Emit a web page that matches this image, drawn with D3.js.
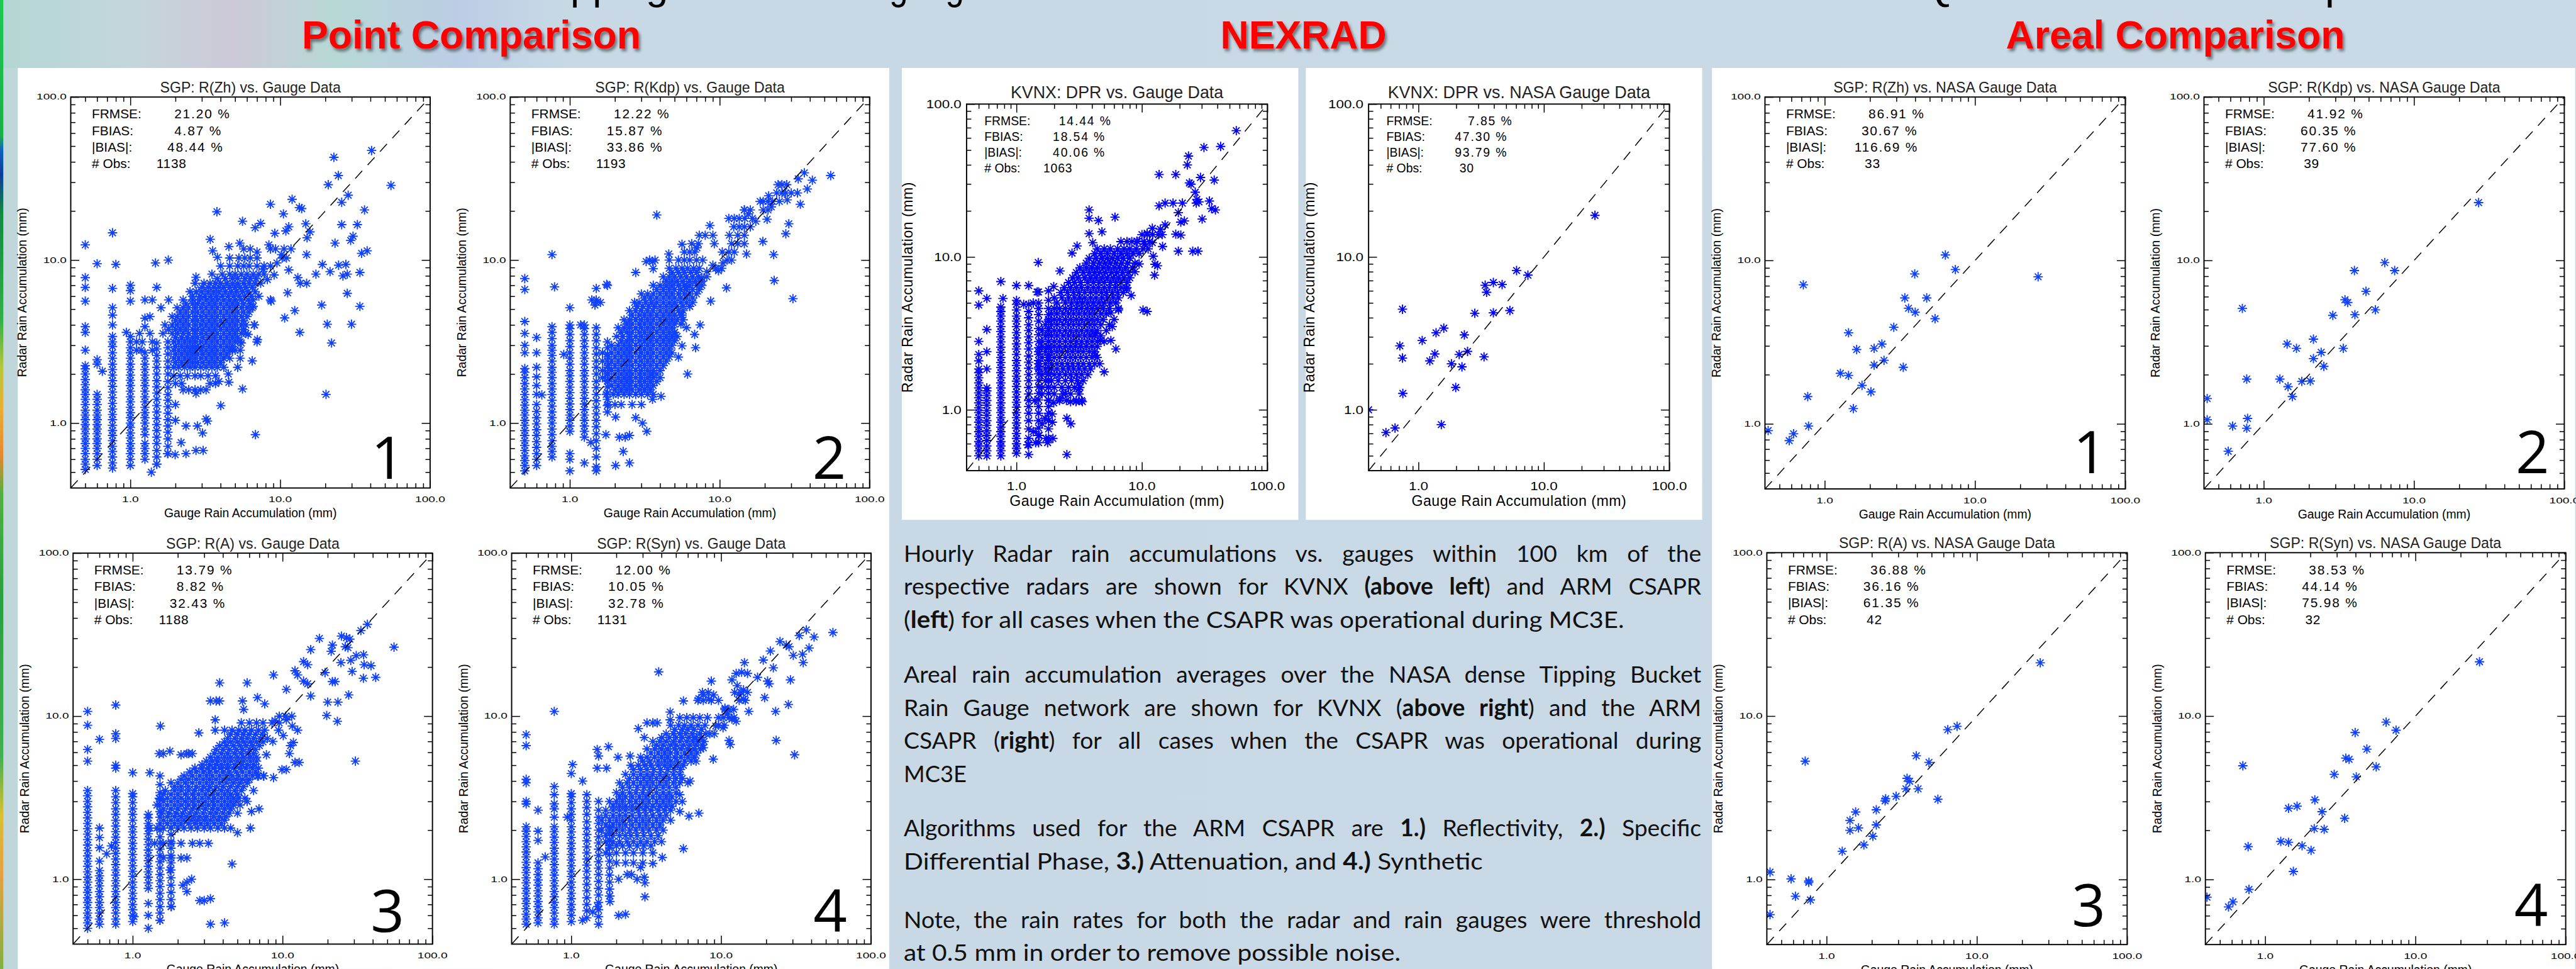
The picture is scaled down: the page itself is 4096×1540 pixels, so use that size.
<!DOCTYPE html>
<html>
<head>
<meta charset="utf-8">
<script src="https://cdn.jsdelivr.net/npm/d3@7/dist/d3.min.js"></script>
<style>
  html, body { margin: 0; padding: 0; overflow: hidden; background: #c9dae6; }
  svg { display: block; }
</style>
</head>
<body>
<script>

var pointTitles = ["SGP: R(Zh) vs. Gauge Data", "SGP: R(Kdp) vs. Gauge Data", "SGP: R(A) vs. Gauge Data", "SGP: R(Syn) vs. Gauge Data"];
var arealTitles = ["SGP: R(Zh) vs. NASA Gauge Data", "SGP: R(Kdp) vs. NASA Gauge Data", "SGP: R(A) vs. NASA Gauge Data", "SGP: R(Syn) vs. NASA Gauge Data"];
var nexradTitles = ["KVNX: DPR vs. Gauge Data", "KVNX: DPR vs. NASA Gauge Data"];

// FRMSE %, FBIAS %, |BIAS| %, # obs
var pointStats = [[21.20, 4.87, 48.44, 1138], [12.22, 15.87, 33.86, 1193], [13.79, 8.82, 32.43, 1188], [12.00, 10.05, 32.78, 1131]];
var nexradStats = [[14.44, 18.54, 40.06, 1063], [7.85, 47.30, 93.79, 30]];
var arealStats = [[86.91, 30.67, 116.69, 33], [41.92, 60.35, 77.60, 39], [36.88, 36.16, 61.35, 42], [38.53, 44.14, 75.98, 32]];

var majorTicks = [1, 10, 100];
var minorTicks = [0.5, 0.6, 0.7, 0.8, 0.9, 2, 3, 4, 5, 6, 7, 8, 9, 20, 30, 40, 50, 60, 70, 80, 90];
var statLabels = ["FRMSE:", "FBIAS:", "|BIAS|:", "# Obs:"];

// gauge columns: [gauge mm, [radar mm ...]]
var zhCols = [
 [0.5, [0.52,0.56,0.6,0.65,0.7,0.75,0.8,0.86,0.92,0.98,1.05,1.12,1.2,1.3,1.4,1.5,1.6,1.72,1.85,2.0,2.15,2.25,2.8,3.6,3.9,5.6,6.8,7.8,12.4]],
 [0.6, [0.55,0.6,0.65,0.7,0.75,0.8,0.86,0.92,0.98,1.05,1.12,1.2,1.3,1.4,1.5,2.3,2.45]],
 [0.76, [0.53,0.57,0.62,0.67,0.72,0.78,0.84,0.9,0.97,1.05,1.13,1.22,1.32,1.43,1.55,1.68,1.82,1.97,2.13,2.3,2.5,2.7,2.95,3.15,3.4,4.0,4.6,5.1,6.7,14.7]],
 [1.0, [0.55,0.6,0.65,0.7,0.75,0.81,0.87,0.94,1.0,1.08,1.16,1.25,1.35,1.45,1.57,1.7,1.83,1.97,2.13,2.3,2.5,2.7,2.9,3.15,3.4,5.6,6.5,7.0]],
 [1.25, [0.6,0.65,0.7,0.75,0.85,0.92,1.0,1.08,1.16,1.25,1.35,1.45,1.57,1.7,1.83,1.97,2.13,2.3,2.5,2.7,3.9,4.4,5.7]],
 [1.5, [0.56,0.62,0.68,0.75,0.82,0.9,0.98,1.07,1.17,1.28,1.4,1.53,1.67,1.82,2.0,2.2,2.4,2.6,2.85,3.1,6.8]],
 [1.78, [0.65,0.72,0.8,0.88,0.96,1.05,1.15,1.26,1.38,1.5,1.65,1.8,2.0,2.2,2.4,2.65,2.9,3.15]]
];
// radar rows: [radar mm, [gauge mm ...]]
var zhRows = [
 [1.6,[2.25,2.45,2.7,2.95,3.2]],
 [1.75,[2.0,2.2,3.4,3.7]],
 [1.95,[1.95,2.15,2.4,2.7,2.95,3.3,3.7]],
 [2.2,[1.95,2.1,2.3,2.5,2.7,2.95,3.2,3.5,3.8,4.2]],
 [2.35,[2.0,2.2,2.4,2.6,2.8,3.05,3.35,3.65,4.0]],
 [2.5,[1.95,2.1,2.3,2.5,2.7,2.95,3.2,3.5,3.8,4.2,4.6,5.4]],
 [2.65,[2.0,2.2,2.4,2.6,2.8,3.05,3.35,3.65,4.0,4.4]],
 [2.8,[1.1,1.18,1.4,1.95,2.1,2.3,2.5,2.7,2.95,3.2,3.5,3.8,4.2,4.6,5.0,5.4]],
 [2.95,[2.0,2.2,2.4,2.6,2.8,3.05,3.35,3.65,4.0,4.4,4.8]],
 [3.15,[1.1,1.2,1.4,1.95,2.1,2.3,2.5,2.7,2.95,3.2,3.5,3.8,4.2,4.6,5.0,5.4,7.0]],
 [3.35,[2.0,2.2,2.4,2.6,2.8,3.05,3.35,3.65,4.0,4.4,4.8,5.2]],
 [3.55,[1.15,1.35,1.65,1.9,2.05,2.25,2.45,2.7,2.95,3.2,3.5,3.8,4.2,4.6,5.0,5.5,5.9]],
 [3.75,[1.8,2.0,2.15,2.35,2.6,2.8,3.05,3.35,3.65,4.0,4.4,4.8,5.2,5.7]],
 [4.0,[1.7,1.9,2.05,2.25,2.45,2.7,2.95,3.2,3.5,3.8,4.2,4.6,5.0,5.5,5.9,6.7]],
 [4.25,[2.0,2.15,2.35,2.6,2.8,3.05,3.35,3.65,4.0,4.4,4.8,5.2,5.7]],
 [4.5,[1.35,1.9,2.05,2.25,2.45,2.7,2.95,3.2,3.5,3.8,4.2,4.6,5.0,5.5,6.0]],
 [4.8,[2.15,2.35,2.6,2.8,3.05,3.35,3.65,4.0,4.4,4.8,5.2,5.7,6.2]],
 [5.1,[1.6,2.05,2.25,2.45,2.7,2.95,3.2,3.5,3.8,4.2,4.6,5.0,5.5,6.0,6.5]],
 [5.4,[2.35,2.6,2.8,3.05,3.35,3.65,4.0,4.4,4.8,5.2,5.7,6.3]],
 [5.7,[1.4,1.8,2.25,2.6,2.9,3.2,3.5,3.8,4.2,4.6,5.0,5.5,6.1,6.6]],
 [6.0,[2.6,2.9,3.15,3.45,3.75,4.1,4.5,4.9,5.3,5.8,6.4]],
 [6.4,[2.5,2.75,3.0,3.3,3.6,3.9,4.3,4.7,5.1,5.6,6.1,6.8]],
 [6.8,[3.0,3.3,3.6,3.9,4.2,4.6,5.0,5.4,5.9,6.5]],
 [7.2,[2.7,3.1,3.4,3.7,4.0,4.4,4.8,5.2,5.7,6.2,6.8,7.4]],
 [7.7,[3.8,4.3,4.8,5.2,5.8,6.3,6.9]],
 [8.2,[3.5,4.1,4.6,5.0,5.5,6.0,6.6,7.2,7.8]],
 [9.2,[4.0,4.6,5.2,5.7,6.2,7.0,7.8,8.6]],
 [10.3,[4.6,5.3,5.8,6.3,7.0,10.3,11.0]],
 [11.7,[5.7,6.3,8.6,9.3,10.6,11.8]]
];
var zhPts = [[40.7,47],[22.8,42.7],[24.4,33],[20.9,29],[54.8,28.7],[28.4,25],[25.7,22.6],[12,23.6],[8.6,22],[13.9,20.7],[13.4,21],[36.5,20.3],[10.5,19.2],[3.78,19.8],[14.8,16.7],[25.7,16.5],[32.7,16.5],[5.6,17.3],[7.4,16.8],[6.8,15.8],[11.4,16],[10.9,15.1],[9.2,14.6],[15.8,14.9],[30.6,14],[29.5,13.2],[23.2,12.7],[15.1,13.7],[3.41,13.4],[5.37,12.7],[4.54,12.1],[8.4,12.4],[34.9,11],[38,11.4],[15,10.8],[10.2,10.8],[3.54,11.4],[3.81,10.4],[7,11.2],[0.6,9.5],[0.8,9.4],[1.47,9.6],[1.79,10],[19.1,9.4],[21.5,8.5],[24.5,9.3],[27.4,9.4],[17.3,8.2],[26.2,8],[28,8.2],[34,8.4],[9.1,8.1],[11.4,8.7],[13.1,7.8],[2.74,7.85],[11.2,6.3],[28,6.25],[13.6,7.2],[15,7.2],[8.7,5.6],[18.9,5.3],[34,5.2],[12.5,4.9],[10.7,4.42],[20.6,4.04],[29.9,4.04],[6.74,4.0],[13.5,3.6],[22,3.1],[7.04,3.25],[6.5,2.41],[4.54,1.78],[5.6,1.62],[20.2,1.5],[4.01,1.28],[6.83,0.85],[3.27,1.03],[3.03,0.87],[2.18,0.76],[1.99,0.64],[1.77,0.65],[2.35,0.65],[2.74,0.68],[3.06,0.68],[1.5,0.56],[1.38,0.5],[2.74,1.52],[3.2,1.06],[2.0,1.04],[2.35,0.96],[2.8,0.96],[0.65,2.08],[2.0,1.3],[0.94,3.6],[7.7,8.8],[8.2,7.6],[9.5,9.6],[7.2,6.0],[6.6,5.2],[8.6,5.7],[4.2,2.5],[4.8,2.8],[5.2,2.2],[4.5,2.0],[3.9,1.8],[5.5,3.1],[6.1,3.5]];

var kdpCols = [
 [0.5, [0.51,0.55,0.59,0.63,0.68,0.73,0.78,0.84,0.9,0.97,1.04,1.12,1.2,1.29,1.39,1.5,1.62,1.75,1.9,2.05,2.16,2.7,3.0,3.55,4.2,6.6,7.7]],
 [0.6, [0.55,0.6,0.65,0.71,0.77,0.84,0.91,0.99,1.08,1.18,1.3,1.5,1.7,1.92,2.2,2.7,3.35]],
 [0.76, [0.62,0.67,0.72,0.78,0.85,0.92,1.0,1.08,1.17,1.27,1.38,1.5,1.62,1.75,1.9,2.05,2.2,2.4,2.6,2.8,3.0,3.3,3.6,3.9,10.8]],
 [1.0, [0.51,0.6,0.65,0.89,0.96,1.04,1.12,1.21,1.31,1.42,1.54,1.66,1.8,1.95,2.1,2.3,2.5,2.7,2.95,3.2,3.5,3.8,4.0,5.1]],
 [1.25, [0.57,0.82,0.89,0.96,1.04,1.12,1.21,1.31,1.42,1.54,1.66,1.8,1.95,2.1,2.3,2.5,2.7,2.95,3.2,3.5,3.8,4.0]],
 [1.5, [0.51,0.54,0.62,0.7,0.78,0.86,0.95,1.04,1.14,1.25,1.37,1.5,1.65,1.8,2.0,2.2,2.4,2.65,2.9,3.2,3.5,3.85,5.5,5.7,6.7]],
 [1.78, [1.17,1.28,1.4,1.53,1.67,1.82,2.0,2.2,2.4,2.65,2.9,3.15,7.0]]
];
var kdpRows = [
 [1.3,[1.8,2.0,2.2,2.6,3.0]],
 [1.5,[1.75,1.95,2.1,2.3,2.5,2.75,3.0,3.3,3.6]],
 [1.6,[2.0,2.2,2.4,2.6,2.9,3.15,3.45]],
 [1.7,[1.9,2.1,2.3,2.5,2.75,3.0,3.3,3.6]],
 [1.8,[1.8,2.0,2.2,2.4,2.6,2.9,3.15,3.45,3.8]],
 [1.9,[1.65,1.9,2.1,2.3,2.5,2.75,3.0,3.3,3.6,4.0]],
 [2.0,[1.8,2.0,2.2,2.4,2.6,2.9,3.15,3.45,3.8]],
 [2.1,[1.65,1.9,2.1,2.3,2.5,2.75,3.0,3.3,3.6,4.0]],
 [2.25,[1.8,2.0,2.2,2.4,2.6,2.9,3.15,3.45,3.8,4.2]],
 [2.4,[1.65,1.9,2.1,2.3,2.5,2.75,3.0,3.3,3.6,4.0,4.4]],
 [2.55,[1.8,2.0,2.2,2.4,2.6,2.9,3.15,3.45,3.8,4.2,4.6]],
 [2.7,[1.65,1.9,2.1,2.3,2.5,2.75,3.0,3.3,3.6,4.0,4.4,4.8]],
 [2.85,[2.0,2.2,2.4,2.6,2.9,3.15,3.45,3.8,4.2,4.6]],
 [3.0,[1.9,2.1,2.3,2.5,2.75,3.0,3.3,3.6,4.0,4.4,4.8]],
 [3.2,[2.2,2.4,2.6,2.9,3.15,3.45,3.8,4.2,4.6,5.0]],
 [3.4,[2.05,2.25,2.5,2.75,3.0,3.3,3.6,4.0,4.4,4.8,5.2]],
 [3.6,[2.2,2.4,2.6,2.9,3.15,3.45,3.8,4.2,4.6,5.0]],
 [3.85,[2.1,2.3,2.5,2.75,3.0,3.3,3.6,4.0,4.4,4.8]],
 [4.05,[2.4,2.6,2.9,3.15,3.45,3.8,4.2,4.6,5.0,5.5]],
 [4.3,[2.3,2.5,2.75,3.0,3.3,3.6,4.0,4.4,4.8,5.2,5.7]],
 [4.6,[2.6,2.9,3.15,3.45,3.8,4.2,4.6,5.0,5.5]],
 [4.9,[2.5,2.75,3.0,3.3,3.6,4.0,4.4,4.8,5.3,5.7]],
 [5.2,[2.8,3.05,3.35,3.65,4.0,4.4,4.8,5.2,5.7,6.3]],
 [5.5,[1.6,2.7,2.9,3.2,3.5,3.8,4.2,4.6,5.0,5.5,6.0,6.6]],
 [5.85,[3.15,3.45,3.8,4.2,4.6,5.0,5.5,6.0,6.6]],
 [6.2,[3.0,3.3,3.6,4.0,4.4,4.8,5.3,5.8,6.3,7.0]],
 [6.6,[3.8,4.2,4.6,5.0,5.5,6.0,6.6,7.3]],
 [7.0,[3.6,4.0,4.4,4.8,5.3,5.8,6.3,7.0,7.6]],
 [7.4,[4.4,4.8,5.2,5.7,6.3,6.9,7.6]],
 [7.9,[4.2,4.6,5.0,5.5,6.0,6.6,7.2,8.2]],
 [8.4,[4.8,5.3,5.8,6.4,7.0]],
 [8.9,[4.6,5.1,5.6,6.1,6.7,7.3,9.4,10.3]],
 [10,[3.4,3.7,4.6,5.3,5.8,6.3,7.0,7.7,11.2,12.0]],
 [11.2,[5.8,6.3,6.8,10.4,11.5,12.5]],
 [12.6,[6.5,7.2,9.2,12,13.2,14.6]],
 [14.2,[7.3,8.0,9.0,11.6,13.2,14.6]],
 [16,[12.4,13.5,14.6,16]],
 [18,[11.5,12.5,13.5,14.7,16.5]],
 [20.3,[14.6,16,19.5,21]],
 [22.9,[19.5,21,22.5,25]],
 [25.8,[24,26,27.5,30,33]],
 [29,[24.5,26,28]]
];
var kdpPts = [[55,33],[36.7,34.3],[41.5,30.9],[33.4,31.5],[38.4,27.3],[34.5,22],[28.2,23.4],[21.2,24.8],[18.6,22.9],[22.1,21.2],[20.7,17.8],[17.4,17.3],[14.6,20.3],[15.5,19.2],[28.9,16.7],[27.6,14.5],[19.4,13],[22.9,10.8],[15.1,10.9],[23.1,7.5],[11.1,6.75],[30.8,5.8],[3.8,18.9],[8.6,16.3],[5.6,12.5],[7.05,11.9],[4.57,10.9],[3.23,9.8],[3.56,9.8],[3.6,8.85],[2.75,8.4],[6.0,3.85],[6.8,3.5],[7.4,4.0],[5.6,2.98],[6.9,2.9],[5.3,2.54],[6.1,2.0],[3.56,2.0],[3.56,1.4],[4.06,1.46],[2.75,1.08],[3.05,1.0],[3.26,0.89],[2.02,1.09],[1.74,0.85],[2.14,0.82],[2.34,0.82],[2.5,0.84],[2.27,0.67],[2.02,0.55],[2.5,0.57],[1.38,0.76],[0.79,6.85],[0.91,2.64],[0.65,1.49],[1.76,7.1],[1.4,5.7],[1.47,5.3],[1.18,4.0],[8.7,5.6],[6.0,6.8],[7.6,7.8],[8.2,8.5],[9.0,9.3],[9.8,8.6],[10.5,9.6],[5.0,3.6],[5.6,4.6],[6.3,5.2]];

var aCols = [
 [0.5, [0.5,0.54,0.58,0.62,0.67,0.72,0.77,0.83,0.89,0.96,1.03,1.11,1.2,1.29,1.39,1.5,1.62,1.75,1.89,2.04,2.2,2.38,2.57,2.78,3.0,3.25,3.5,5.3,6.25,8.8,10.7]],
 [0.6, [0.53,0.57,0.62,0.67,0.72,0.78,0.84,0.91,0.98,1.05,1.13,1.29,1.56,1.8,2.06,7.2]],
 [0.77, [0.53,0.57,0.62,0.67,0.72,0.78,0.84,0.91,0.98,1.06,1.14,1.23,1.33,1.44,1.55,1.68,1.81,1.96,2.12,2.3,2.5,2.7,2.95,3.2,3.5,4.8,5.0,7.3,7.8,11.7]],
 [1.0, [0.55,0.6,0.65,0.7,0.76,0.82,0.89,0.96,1.04,1.12,1.21,1.31,1.42,1.54,1.66,1.8,1.95,2.1,2.3,2.5,2.7,2.95,3.2,3.35,4.5]],
 [1.27, [0.5,0.6,0.71,0.88,0.95,1.03,1.11,1.2,1.3,1.4,1.51,1.63,1.76,1.9,2.05,2.2,2.38,2.5]],
 [1.52, [0.56,0.62,0.68,0.75,0.82,0.9,0.98,1.07,1.17,1.28,1.4,1.53,1.67,1.82,2.0,2.2,2.4,2.6,2.85,3.1,3.4,3.8,4.3]],
 [1.8, [0.68,0.75,0.83,0.92,1.02,1.14,1.26,1.4,1.55,1.7,1.88,2.06]]
];
var aRows = [
 [1.35,[1.6,1.8,2.1,2.3]],
 [1.66,[1.4,1.6,1.8,2.1,2.5,2.8,3.2]],
 [2.06,[1.3,1.45,1.6,1.8,2.0,2.2,2.45,2.7,3.0,3.3,3.7,4.1,4.5]],
 [2.2,[1.7,1.9,2.1,2.35,2.6,2.85,3.15,3.5,3.9]],
 [2.3,[1.6,1.8,2.0,2.2,2.45,2.7,3.0,3.3,3.7,4.1]],
 [2.42,[1.7,1.9,2.1,2.3,2.55,2.8,3.1,3.45,3.8,4.2]],
 [2.54,[1.55,1.75,1.95,2.15,2.4,2.65,2.95,3.3,3.6,4.0,4.4,5.0]],
 [2.7,[1.6,1.8,2.0,2.25,2.5,2.75,3.05,3.4,3.7,4.1,4.5]],
 [2.85,[1.45,1.7,1.9,2.1,2.35,2.6,2.9,3.2,3.5,3.9,4.3,4.7,5.2]],
 [3.0,[1.6,1.8,2.0,2.25,2.5,2.75,3.05,3.4,3.7,4.1,4.5,4.9]],
 [3.14,[1.5,1.7,1.9,2.1,2.35,2.6,2.9,3.2,3.5,3.9,4.3,4.7,5.1,5.6]],
 [3.32,[1.6,1.8,2.0,2.25,2.5,2.75,3.05,3.4,3.7,4.1,4.5,5.0]],
 [3.5,[1.65,1.9,2.1,2.35,2.6,2.9,3.2,3.5,3.9,4.3,4.8,5.3]],
 [3.7,[1.9,2.1,2.35,2.65,2.95,3.25,3.6,4.0,4.5,5.0,5.5]],
 [3.9,[1.8,2.0,2.25,2.5,2.8,3.1,3.4,3.8,4.2,4.7,5.2,5.8]],
 [4.1,[2.1,2.35,2.65,2.95,3.25,3.6,4.0,4.4,4.9,5.4,6.0]],
 [4.3,[2.2,2.5,2.8,3.1,3.4,3.8,4.2,4.6,5.1,5.7,6.3,6.9,7.5]],
 [4.55,[2.4,2.65,2.95,3.25,3.6,4.0,4.4,4.9,5.4,6.0,6.6]],
 [4.8,[2.6,2.9,3.2,3.5,3.9,4.3,4.7,5.2,5.7,6.3,6.9]],
 [5.05,[2.9,3.25,3.6,3.9,4.3,4.8,5.3,5.8,6.4]],
 [5.3,[3.1,3.4,3.7,4.1,4.5,5.0,5.5,6.1,6.7]],
 [5.6,[3.3,3.7,4.1,4.5,5.0,5.5,6.1,6.7]],
 [5.9,[1.5,1.6,2.3,2.5,3.5,3.9,4.3,4.8,5.3,5.9,6.4]],
 [6.25,[3.6,4.0,4.4,4.9,5.4,6.0,6.6]],
 [6.6,[3.8,4.2,4.7,5.2,5.7,6.3,7.0]],
 [6.95,[4.1,4.5,5.0,5.5,6.1,6.7,7.4]],
 [7.3,[4.3,4.8,5.3,5.8,6.4,7.1,7.9]],
 [7.75,[4.5,5.0,5.5,6.0,6.6,7.3]],
 [8.2,[4.1,4.6,5.1,5.6,6.2,6.9,7.6]],
 [9.1,[5.3,6.0,6.7,7.4,8.5,9.5]],
 [10,[9.5,10.5,11.5]]
];
var aPts = [[55.4,26.5],[36.8,36.6],[33.3,33.5],[24.7,31],[26.7,30.3],[28.1,29.7],[26.2,26.7],[27.3,26.3],[17.6,30],[21.5,27.3],[21.1,25],[15.4,25.6],[31,23.5],[34.7,23.8],[24.5,21.3],[28.5,22],[35,20.7],[38.9,20.4],[13.8,21.6],[14.7,20.7],[19.2,18.5],[29.1,18.8],[34.6,17.1],[41.8,17.3],[21.5,16.3],[22.4,16.3],[12.1,19],[12.6,17.9],[13.8,16.4],[14.7,15.8],[15.4,13.3],[8.7,17.9],[10.6,14.6],[27.6,13.5],[20,12.2],[23.4,12.2],[19.7,10.1],[23.2,9.3],[30.6,5.3],[3.8,16],[5.8,16],[3.3,12.4],[3.6,12.4],[3.8,12.4],[5.4,12.4],[5.5,11],[6.8,13],[7.6,11.9],[1.53,8.7],[2.76,7.9],[3.55,9.5],[3.55,8.2],[1.77,6.1],[2.1,5.8],[2.36,5.9],[1.3,4.5],[6.8,4.3],[7.45,4.3],[8.7,4.2],[9.9,4.7],[10.6,4.7],[11.1,5.9],[12.1,5.2],[12.9,5.2],[11.3,6.6],[11.8,6.9],[10.1,7.6],[12.6,8.2],[11.6,8.7],[8.9,9.4],[10.6,9.5],[6.96,2.7],[6.1,2.06],[5.0,1.93],[4.6,1.24],[3.3,0.76],[3.0,0.74],[2.8,0.74],[3.3,0.53],[4.1,0.54],[2.16,0.92],[2.3,0.96],[2.47,1.0],[2.3,0.84],[1.81,0.68],[1.77,1.14],[1.52,0.56],[1.02,0.59],[0.67,1.43],[0.72,1.6],[6.4,3.5],[5.8,3.0],[6.2,2.6],[7.8,5.8],[8.6,7.0],[9.4,8.2]];

var synCols = [
 [0.5, [0.53,0.57,0.61,0.66,0.71,0.76,0.82,0.88,0.95,1.02,1.1,1.18,1.27,1.37,1.47,1.58,1.7,1.83,1.97,2.1,2.9,3.0,3.9,4.1,6.6,7.7]],
 [0.6, [0.54,0.58,0.63,0.68,0.73,0.79,0.85,0.92,0.99,1.07,1.16,1.26,1.73,1.97,2.65]],
 [0.77, [0.53,0.57,0.62,0.67,0.72,0.78,0.84,0.91,0.98,1.06,1.14,1.23,1.33,1.44,1.55,1.68,1.81,1.96,2.1,2.4,2.7,2.9,3.3,3.7,10.7]],
 [1.0, [0.55,0.6,0.65,0.7,0.76,0.82,0.89,0.96,1.04,1.12,1.21,1.31,1.42,1.54,1.66,1.8,1.95,2.1,2.3,2.5,2.7,2.95,3.2,3.35]],
 [1.27, [0.58,0.64,0.7,0.77,0.85,0.93,1.02,1.12,1.22,1.33,1.45,1.58,1.72,1.88,2.05,2.25,2.5,2.75,3.0,3.3]],
 [1.52, [0.53,0.59,0.65,0.72,0.8,0.88,0.97,1.07,1.17,1.28,1.4,1.53,1.67,1.82,2.0,2.2,2.4,2.65,3.0]],
 [1.8, [0.79,0.87,0.96,1.06,1.17,1.29,1.42,1.56,1.72,1.9,2.1]]
];
var synRows = [
 [1.26,[2.0,2.3,2.6,3.0]],
 [1.45,[1.7,2.0,2.3,2.6,3.0,3.5]],
 [1.6,[1.8,2.0,2.2,2.45,2.75,3.05,3.4]],
 [1.7,[1.7,1.9,2.1,2.35,2.6,2.9,3.2,3.6,4.0]],
 [1.85,[1.7,1.9,2.1,2.3,2.5,2.75,3.05,3.4,3.8]],
 [2.0,[1.6,1.8,2.0,2.2,2.45,2.7,3.0,3.3,3.7,4.1]],
 [2.15,[1.7,1.9,2.1,2.3,2.55,2.85,3.15,3.5,3.9]],
 [2.3,[1.6,1.8,2.0,2.2,2.45,2.7,3.0,3.3,3.7,4.1,4.6]],
 [2.47,[1.7,1.9,2.1,2.3,2.55,2.85,3.15,3.5,3.9,4.3]],
 [2.65,[1.7,1.9,2.1,2.3,2.55,2.8,3.1,3.4,3.8,4.2,4.6]],
 [2.8,[1.9,2.1,2.3,2.55,2.85,3.15,3.5,3.9,4.3,4.7]],
 [3.0,[1.8,2.0,2.2,2.45,2.7,3.0,3.3,3.7,4.1,4.5,5.0,5.5]],
 [3.2,[2.1,2.3,2.55,2.85,3.15,3.5,3.9,4.3,4.7]],
 [3.4,[2.0,2.2,2.45,2.7,3.0,3.3,3.7,4.1,4.5,5.0]],
 [3.65,[2.2,2.45,2.75,3.05,3.35,3.7,4.1,4.5,5.0]],
 [3.9,[2.1,2.35,2.6,2.9,3.2,3.5,3.9,4.3,4.8,5.3,6.0]],
 [4.15,[2.45,2.75,3.05,3.35,3.7,4.1,4.5,5.0,5.5]],
 [4.4,[2.3,2.6,2.9,3.2,3.5,3.9,4.3,4.8,5.3]],
 [4.7,[2.6,2.9,3.2,3.55,3.95,4.4,4.85,5.35]],
 [5.0,[2.5,2.8,3.1,3.4,3.8,4.2,4.6,5.1,5.6]],
 [5.3,[3.0,3.35,3.8,4.2,4.6,5.1,5.7,6.3]],
 [5.6,[2.9,3.2,3.6,4.0,4.4,4.9,5.4,6.0,6.6]],
 [5.95,[3.4,3.8,4.2,4.6,5.1,5.7,6.3,6.9]],
 [6.3,[3.2,3.6,4.0,4.4,4.9,5.4,6.0,6.6,7.3]],
 [6.65,[3.7,4.1,4.6,5.0,5.6,6.2,6.8,7.5]],
 [7.0,[3.5,3.9,4.3,4.8,5.3,5.9,6.5,7.1,7.7]],
 [7.4,[4.0,4.5,5.0,5.5,6.1,6.8,7.4]],
 [7.8,[4.3,4.8,5.3,5.8,6.4,7.2,7.9,9.0]],
 [8.3,[4.9,5.5,6.0,6.6,7.4]],
 [8.8,[4.6,5.2,5.7,6.3,7.0,7.8,9.6,10.5]],
 [9.8,[5.3,5.9,6.5,7.2,8.1,10.3,11.3,12.2]],
 [11,[10.6,11.3,12.1]],
 [12.5,[7.0,7.6,8.6,9.6,13.2,14.5]],
 [14,[7.5,8.2,12.3,13.6,15]]
];
var synPts = [[55.7,32.6],[37,33.8],[41.7,30.6],[33.2,31.2],[38.6,26.2],[34.9,24],[35.3,21.3],[24.7,28.7],[27.2,27.3],[28.4,26.7],[30.3,23.6],[21.3,25.1],[19.1,22.1],[22.3,19.8],[14.3,21.3],[17.5,17.3],[20.4,16.4],[20.9,15.8],[29,16.7],[12.6,18.3],[13.7,18.6],[15,18.3],[11.8,16.7],[12.8,15.4],[14.1,14.5],[13.1,13.6],[14.1,12.7],[15.3,10.7],[19.5,13],[28.1,11.8],[23.1,10.7],[23.3,7.1],[30.9,5.8],[10.6,11.2],[11,10.3],[11.8,9.6],[12.6,9.3],[9.2,8.7],[10.3,8.5],[11.3,7.1],[11.5,6.7],[8.6,16.4],[8.85,5.45],[5.6,12.4],[7.1,12.8],[7.6,13.5],[8.9,13.5],[8.3,12.7],[3.83,18.7],[4.57,10.6],[4.57,9.5],[3.2,9.1],[3.5,9.1],[3.75,9.1],[2.8,8.4],[3.07,7.4],[1.49,6.25],[1.77,6.5],[1.52,5.7],[1.49,4.8],[1.02,5.05],[1.0,4.45],[1.19,4.0],[2.05,5.6],[2.47,5.7],[1.72,4.8],[6.2,4.0],[6.1,2.44],[7.1,2.54],[5.3,2.6],[5.3,3.3],[5.6,1.54],[4.05,1.36],[3.5,1.25],[2.9,1.18],[2.75,1.0],[3.07,1.03],[3.1,0.95],[3.1,0.78],[2.07,1.0],[2.36,1.07],[2.52,1.07],[2.07,0.6],[2.3,0.61],[1.81,0.79],[1.81,0.73],[1.5,0.68],[1.39,0.63],[1.19,0.56],[0.94,2.4],[0.67,1.37],[6.8,5.3],[7.6,6.4],[6.6,7.4],[8.4,7.8],[9.6,9.8]];

var dprCols = [
 [0.5, [0.5,0.54,0.58,0.62,0.67,0.72,0.77,0.83,0.89,0.96,1.03,1.11,1.2,1.29,1.39,1.5,1.62,1.75,1.85,2.09,2.3,2.8,4.85,6.0]],
 [0.58, [0.5,0.54,0.58,0.63,0.68,0.73,0.79,0.85,0.92,0.99,1.07,1.15,1.24,1.33,1.39,1.85,2.4,3.35,5.35]],
 [0.75, [0.5,0.54,0.58,0.62,0.67,0.72,0.77,0.83,0.89,0.96,1.03,1.11,1.2,1.29,1.39,1.5,1.62,1.75,1.89,2.04,2.2,2.38,2.57,2.78,3.0,3.25,3.5,3.8,4.1,4.4,4.7,6.9]],
 [1.0, [0.52,0.56,0.6,0.65,0.7,0.76,0.82,0.89,0.96,1.04,1.12,1.21,1.31,1.42,1.54,1.66,1.8,1.95,2.1,2.3,2.5,2.7,2.95,3.2,3.5,3.8,4.1,4.5,4.9,5.2,6.5]],
 [1.25, [0.51,0.59,0.65,0.75,0.85,0.95,1.05,1.15,1.27,1.4,1.55,1.7,1.87,2.05,2.25,2.5,2.75,3.0,3.3,3.6,4.0,4.4,4.9,6.5]],
 [1.5, [0.61,0.68,0.76,0.85,0.95,1.05,1.16,1.28,1.41,1.56,1.72,1.9,2.1,2.3,2.55,2.8,3.1,3.4,3.8,4.2,4.6,5.0,5.9]],
 [1.8, [0.65,0.75,0.85,0.95,1.05,1.16,1.28,1.41,1.56,1.72,1.9,2.1,2.3,2.55,2.8,3.1,3.4,3.8,4.2,4.6,5.2,6.0]]
];
var dprRows = [
 [1.15,[1.4,1.8,2.2,2.5,3.0,3.3]],
 [1.27,[1.6,2.0,2.35,2.7,3.15]],
 [1.4,[1.6,1.8,2.0,2.3,2.6,2.9,3.2]],
 [1.55,[1.7,1.9,2.15,2.45,2.75,3.05,3.4]],
 [1.7,[1.6,1.8,2.0,2.2,2.45,2.7,3.0,3.3,3.7]],
 [1.85,[1.5,1.7,1.9,2.1,2.35,2.6,2.85,3.15,3.5,3.9]],
 [2.0,[1.5,1.7,1.9,2.1,2.3,2.55,2.8,3.1,3.4,3.8,4.2,4.6]],
 [2.2,[1.6,1.8,2.0,2.2,2.45,2.7,2.95,3.25,3.6,4.0,4.4]],
 [2.4,[1.5,1.7,1.9,2.1,2.3,2.55,2.8,3.1,3.4,3.8,4.2]],
 [2.6,[1.6,1.8,2.0,2.2,2.45,2.7,2.95,3.25,3.6,4.0,4.4]],
 [2.8,[1.6,1.8,2.0,2.2,2.45,2.7,3.0,3.3,3.65,4.0,4.4,5.0]],
 [3.05,[1.7,1.9,2.1,2.35,2.6,2.85,3.15,3.5,3.85,4.2,4.7]],
 [3.3,[1.6,1.8,2.0,2.2,2.45,2.7,3.0,3.3,3.65,4.0,4.4,5.2]],
 [3.6,[1.7,1.9,2.1,2.35,2.6,2.85,3.15,3.5,3.85,4.2,4.7,5.5]],
 [3.9,[1.8,2.0,2.2,2.45,2.7,3.0,3.3,3.65,4.0,4.4,4.9,6.0]],
 [4.25,[1.9,2.1,2.35,2.6,2.85,3.15,3.5,3.85,4.2,4.7,5.2]],
 [4.6,[2.0,2.2,2.45,2.7,3.0,3.3,3.65,4.0,4.4,4.9,5.5,6.5]],
 [5.0,[2.1,2.45,2.75,3.05,3.35,3.7,4.1,4.55,5.0,5.6,6.2]],
 [5.4,[2.0,2.3,2.6,2.9,3.2,3.5,3.9,4.3,4.8,5.3,5.9,6.5]],
 [5.85,[2.25,2.55,2.85,3.15,3.5,3.9,4.3,4.75,5.2,5.8,6.4,7.1]],
 [6.3,[2.4,2.7,3.0,3.3,3.7,4.1,4.5,5.0,5.5,6.1,6.8,7.6]],
 [6.8,[2.6,2.9,3.25,3.7,4.1,4.55,5.0,5.6,6.2,6.8,7.6]],
 [7.3,[2.8,3.1,3.5,3.9,4.3,4.8,5.3,5.9,6.5,7.2,8.0]],
 [7.9,[3.0,3.4,3.8,4.2,4.6,5.1,5.7,6.3,7.0,7.8]],
 [8.5,[3.2,3.6,4.0,4.4,4.9,5.4,6.0,6.6,7.4,8.4]],
 [9.1,[3.6,4.1,4.6,5.1,5.6,6.2,6.9,7.7,8.8]],
 [9.8,[3.8,4.3,4.8,5.3,5.8,6.4,7.1,8.0]],
 [10.5,[4.2,4.7,5.3,6.0,6.8,7.6,8.5,9.5]],
 [11.3,[4.4,5.0,5.6,6.4,7.2,8.0,9.0,10.2,11.2]],
 [12.6,[6.8,7.6,8.3,9.2,10.4,11.5]],
 [14,[10,11,12.2,13.5,14.5]]
];
var dprPts = [[56.5,67],[31.2,52],[42.4,52.8],[23.5,45.7],[23,40],[13.7,34.6],[18.6,34.6],[29.3,33.1],[37.7,31.8],[23.9,30.5],[24.6,29.9],[26.6,26.5],[27.4,23.8],[28.5,22.9],[27.1,22.5],[34.5,23.2],[35.9,20.7],[38.5,20.3],[13.7,21.6],[15.3,22.5],[17.7,22.5],[21,22.5],[19.5,19.5],[30.2,17.7],[20.4,16.9],[21.8,17.2],[15.3,16.2],[14,15.2],[18.6,14.1],[20.4,13.9],[11,14.3],[12.1,15.4],[9.1,12.7],[10.5,12.2],[12.1,12.4],[14.6,11.7],[19.5,10.9],[25.4,10.9],[28,10.9],[12.3,10.1],[12.7,8.95],[13.3,8.76],[12.6,7.6],[10.2,4.5],[11,4.4],[3.79,20.3],[3.79,17.9],[4.5,17.3],[6.1,18.2],[4.8,14.6],[3.79,14.2],[4.05,12.4],[3.04,11.8],[2.77,10.6],[1.49,9.2],[2.22,8.1],[0.78,5.35],[1.46,5.9],[1.98,6.4],[1.14,4.9],[1.36,5.0],[5.0,1.77],[6.2,2.5],[4.25,2.27],[5.65,2.84],[5.65,4.3],[5.8,3.5],[4.25,3.15],[4.67,2.84],[2.45,1.28],[2.22,1.18],[1.98,1.11],[2.7,1.13],[2.98,1.13],[3.35,1.13],[3.13,1.48],[3.13,1.36],[2.52,0.88],[2.71,0.81],[1.93,0.94],[1.93,0.83],[1.69,0.88],[1.6,0.81],[1.36,0.72],[1.52,0.68],[1.72,0.65],[1.95,0.65],[1.23,0.59],[1.42,0.61],[1.77,0.61],[2.52,0.51],[8.8,8.0],[9.5,9.0],[7.5,6.2],[8.2,5.6],[6.5,4.5]];

// areal averages: [gauge mm, radar mm]
var dprArealPts = [[25.5,18.7],[6.05,8.15],[7.45,7.6],[3.4,6.53],[3.95,6.8],[4.64,6.6],[3.49,5.87],[0.745,4.55],[2.81,4.28],[3.95,4.31],[5.35,4.46],[1.59,3.42],[1.38,3.19],[2.32,3.09],[1.07,2.84],[0.71,2.62],[0.745,2.18],[1.35,2.32],[1.23,2.09],[2.11,2.3],[2.46,2.41],[3.33,2.22],[1.83,2.0],[2.22,1.91],[1.98,1.4],[0.75,1.28],[0.4,1.0],[1.52,0.8],[0.65,0.76],[0.55,0.71]];
var zhArealPts = [[6.35,10.8],[7.4,8.8],[3.97,8.27],[26.3,7.95],[0.72,7.1],[3.41,5.9],[4.77,5.9],[3.61,5.1],[4.0,4.82],[5.42,4.4],[2.88,3.9],[1.44,3.61],[2.4,3.08],[2.13,2.9],[1.63,2.85],[2.48,2.45],[2.13,2.29],[3.33,2.22],[1.27,2.04],[1.44,1.98],[1.77,1.72],[2.03,1.57],[0.77,1.47],[1.55,1.24],[0.78,0.97],[0.42,0.91],[0.62,0.87],[0.58,0.79]];
var kdpArealPts = [[26.9,22.6],[6.38,9.7],[7.43,8.67],[4.01,8.67],[4.79,6.47],[3.47,5.75],[3.62,5.53],[0.72,5.09],[5.53,4.99],[2.88,4.61],[4.04,4.66],[2.14,3.3],[1.43,3.08],[1.65,2.9],[3.38,2.9],[2.41,2.74],[2.14,2.51],[2.51,2.25],[0.77,1.88],[1.28,1.88],[1.79,1.82],[2.04,1.83],[1.45,1.69],[1.55,1.47],[0.42,1.43],[0.78,1.08],[0.42,1.06],[0.62,0.97],[0.77,0.94],[0.58,0.68]];
var aArealPts = [[26.4,21.2],[7.38,8.66],[6.4,8.26],[3.95,5.72],[4.8,5.21],[0.72,5.3],[3.43,4.16],[3.57,3.99],[3.37,3.59],[4.06,3.59],[5.5,3.1],[2.9,3.23],[2.47,3.12],[2.45,3.03],[2.14,2.67],[1.56,2.59],[1.43,2.3],[2.14,2.16],[1.63,2.07],[1.43,2.0],[2.03,1.84],[1.77,1.63],[1.27,1.49],[0.42,1.11],[0.58,1.01],[0.76,0.96],[0.76,0.98],[0.62,0.79],[0.78,0.75],[0.42,0.61]];
var synArealPts = [[26.7,21.5],[6.38,9.19],[7.43,8.2],[3.97,7.93],[4.75,6.28],[3.44,5.53],[3.62,5.44],[0.71,4.97],[5.48,4.89],[2.88,4.4],[4.04,4.25],[2.14,3.07],[1.43,2.73],[1.63,2.81],[2.39,2.6],[3.38,2.37],[2.12,2.05],[2.47,2.03],[0.77,1.59],[1.27,1.71],[1.43,1.69],[1.76,1.61],[2.02,1.51],[1.54,1.12],[0.78,0.87],[0.41,0.78],[0.61,0.73],[0.57,0.68]];

var headers = ["Point Comparison", "NEXRAD", "Areal Comparison"];

var noteLines = [
 {y:1199, w:1702, j:1, s:[["Hourly Radar rain accumulations vs. gauges within 100 km of the",0]]},
 {y:1269, w:1702, j:1, s:[["respective radars are shown for KVNX ",0],["(above left",1],[") and ARM CSAPR",0]]},
 {y:1339, w:1538, j:0, s:[["(",0],["left",1],[") for all cases when the CSAPR was operational during MC3E.",0]]},
 {y:1456, w:1702, j:1, s:[["Areal rain accumulation averages over the NASA dense Tipping Bucket",0]]},
 {y:1527, w:1702, j:1, s:[["Rain Gauge network are shown for KVNX (",0],["above right",1],[") and the ARM",0]]},
 {y:1597, w:1702, j:1, s:[["CSAPR (",0],["right",1],[") for all cases when the CSAPR was operational during",0]]},
 {y:1668, w:134, j:0, s:[["MC3E",0]]},
 {y:1784, w:1702, j:1, s:[["Algorithms used for the ARM CSAPR are ",0],["1.)",1],[" Reflectivity, ",0],["2.)",1],[" Specific",0]]},
 {y:1855, w:1236, j:0, s:[["Differential Phase, ",0],["3.)",1],[" Attenuation, and ",0],["4.)",1],[" Synthetic",0]]},
 {y:1980, w:1702, j:1, s:[["Note, the rain rates for both the radar and rain gauges were threshold",0]]},
 {y:2049, w:1061, j:0, s:[["at 0.5 mm in order to remove possible noise.",0]]}
];

var topLine = [
 {x:175, w:1701, t:"Results obtained with the Tipping Bucket rain"},
 {x:1898, w:2180, t:"gauges results are similar to the NEXRAD and ARM CSAPR and the"},
 {x:4100, w:1242, t:"Q2 rainfall and other products."}
];

// ---------- drawing ----------

var W = 5496, H = 2067, S = 0.745;
var sgpBlue = "#1040ff", nexBlue = "#0000ff";
var plotFont = "'Liberation Sans', Arial, sans-serif";

var svg = d3.select("body").append("svg")
  .attr("width", 4096)
  .attr("height", 1540);

var defs = svg.append("defs");

var bg = defs.append("linearGradient").attr("id", "bgGrad")
  .attr("gradientUnits", "userSpaceOnUse").attr("x1", 0).attr("x2", W).attr("y1", 0).attr("y2", 0);
[[0, "#b3d7d3"], [0.05, "#c3d6db"], [0.09, "#cdc9d8"], [0.13, "#b7d8d5"], [0.18, "#bccde6"], [0.22, "#c8d9e5"], [1, "#c9dae6"]]
  .forEach(function(s) { bg.append("stop").attr("offset", s[0]).attr("stop-color", s[1]); });

var edge = defs.append("linearGradient").attr("id", "edgeGrad")
  .attr("x1", 0).attr("x2", 0).attr("y1", 0).attr("y2", 1);
[[0, "#1ec850"], [0.14, "#18b048"], [0.155, "#1060c0"], [0.18, "#0a3c9c"], [0.22, "#108a40"], [0.33, "#30b048"],
 [0.38, "#b8c838"], [0.42, "#e8b030"], [0.47, "#e88830"], [0.51, "#50b040"], [0.62, "#28a040"], [0.78, "#40b050"],
 [0.84, "#d8c030"], [0.9, "#e8a040"], [1, "#80b040"]]
  .forEach(function(s) { edge.append("stop").attr("offset", s[0]).attr("stop-color", s[1]); });

defs.append("filter").attr("id", "shadow").attr("x", "-10%").attr("y", "-20%").attr("width", "120%").attr("height", "160%")
  .append("feDropShadow").attr("dx", 4).attr("dy", 6).attr("stdDeviation", 3)
  .attr("flood-color", "#000").attr("flood-opacity", 0.45);

var root = svg.append("g").attr("transform", "scale(" + S + ")");

root.append("rect").attr("width", W).attr("height", H).attr("fill", "url(#bgGrad)");
root.append("rect").attr("x", 7).attr("y", 145).attr("width", 31).attr("height", H - 145).attr("fill", "#bfd6da");
root.append("rect").attr("width", 7).attr("height", H).attr("fill", "url(#edgeGrad)");

// white panels
[[38, 145, 1860, H - 145], [1925, 145, 846, 964], [2787, 145, 846, 964], [3654, 145, W - 3654, H - 145]]
  .forEach(function(p) {
    root.append("rect").attr("x", p[0]).attr("y", p[1]).attr("width", p[2]).attr("height", p[3]).attr("fill", "#fff");
  });

// cut-off title line at the very top: only descenders show
topLine.forEach(function(t) {
  root.append("text").attr("x", t.x).attr("y", -1)
    .attr("font-family", plotFont).attr("font-size", 86)
    .attr("textLength", t.w).attr("lengthAdjust", "spacingAndGlyphs")
    .text(t.t);
});

// section headers
[1006, 2782, 4643].forEach(function(cx, i) {
  root.append("text").attr("x", cx).attr("y", 103)
    .attr("text-anchor", "middle")
    .attr("font-family", plotFont).attr("font-weight", "bold").attr("font-size", 84)
    .attr("fill", "#fe0000").attr("filter", "url(#shadow)")
    .text(headers[i]);
});

var sgpStyle = {
  titleSize: 31, titleDy: -10, statsSize: 28, statsX: 45, statsY: [46, 81, 116, 152],
  valX: [221, 206, 206, 183], digitW: 15, tickSize: 25.6, squish: 0.64, xTickDy: 25, yTickGap: 9,
  labelSize: 26, labelSpacing: 0, xLabelDy: 63, yLabelDx: -94
};
var nexStyle = {
  titleSize: 36, titleDy: -13, statsSize: 26, statsX: 38, statsY: [45, 79, 112, 146],
  valX: [197, 184, 184, 164], digitW: 15, tickSize: 30, squish: 0.86, xTickDy: 33, yTickGap: 11,
  labelSize: 31, labelSpacing: 0.7, xLabelDy: 75, yLabelDx: -116
};

function expand(cols, rows, pts) {
  var out = [];
  (cols || []).forEach(function(c) { c[1].forEach(function(v) { out.push([c[0], v]); }); });
  (rows || []).forEach(function(r) { r[1].forEach(function(v) { out.push([v, r[0]]); }); });
  (pts || []).forEach(function(p) { out.push(p); });
  return out;
}

function intDigits(v) { return v < 1 ? 1 : Math.floor(Math.log10(v)) + 1; }

var starR = 10, starD = 7.1;
var starPath = "M0," + (-starR) + "V" + starR + "M" + (-starR) + ",0H" + starR +
  "M" + (-starD) + "," + (-starD) + "L" + starD + "," + starD +
  "M" + (-starD) + "," + starD + "L" + starD + "," + (-starD);

var clipN = 0;

function drawPlot(c) {
  var st = c.style;
  var g = root.append("g").attr("transform", "translate(" + c.x + "," + c.y + ")")
    .attr("font-family", plotFont).attr("fill", "#000");

  var x = d3.scaleLog().domain([0.4, 100]).range([0, c.w]);
  var y = d3.scaleLog().domain([0.4, 100]).range([c.h, 0]);

  var id = "clip" + (clipN++);
  defs.append("clipPath").attr("id", id).append("rect").attr("width", c.w).attr("height", c.h);

  // points
  g.append("g").attr("clip-path", "url(#" + id + ")")
    .selectAll("path")
    .data(c.data)
    .join("path")
      .attr("d", starPath)
      .attr("transform", function(d) { return "translate(" + x(d[0]) + "," + y(d[1]) + ")"; })
      .attr("fill", "none")
      .attr("stroke", c.color)
      .attr("stroke-width", 2.5);

  // 1:1 line
  g.append("line")
    .attr("x1", x(0.4)).attr("y1", y(0.4)).attr("x2", x(100)).attr("y2", y(100))
    .attr("stroke", "#000").attr("stroke-width", 2).attr("stroke-dasharray", "22,17");

  // inward ticks on all four sides
  var sides = [
    [d3.axisBottom(x), "translate(0," + c.h + ")"],
    [d3.axisTop(x), "translate(0,0)"],
    [d3.axisLeft(y), "translate(0,0)"],
    [d3.axisRight(y), "translate(" + c.w + ",0)"]
  ];
  sides.forEach(function(s) {
    [[majorTicks, 18], [minorTicks, 10]].forEach(function(t) {
      var a = g.append("g").attr("transform", s[1])
        .call(s[0].tickValues(t[0]).tickSize(-t[1]).tickFormat(function() { return ""; }));
      a.select(".domain").remove();
      a.selectAll("text").remove();
      a.selectAll("line").attr("stroke", "#000").attr("stroke-width", 2);
    });
  });

  g.append("rect").attr("width", c.w).attr("height", c.h)
    .attr("fill", "none").attr("stroke", "#000").attr("stroke-width", 2.6);

  var fmt = d3.format(".1f");
  g.selectAll(".xtl").data(majorTicks).join("text")
    .attr("class", "xtl")
    .attr("transform", function(d) { return "translate(" + x(d) + "," + (c.h + st.xTickDy) + ") scale(1," + st.squish + ")"; })
    .attr("text-anchor", "middle").attr("dominant-baseline", "central")
    .attr("font-size", st.tickSize)
    .text(fmt);
  g.selectAll(".ytl").data(majorTicks).join("text")
    .attr("class", "ytl")
    .attr("transform", function(d) { return "translate(" + (-st.yTickGap) + "," + y(d) + ") scale(1," + st.squish + ")"; })
    .attr("text-anchor", "end").attr("dominant-baseline", "central")
    .attr("font-size", st.tickSize)
    .text(fmt);

  g.append("text").attr("x", c.w / 2).attr("y", st.titleDy)
    .attr("text-anchor", "middle").attr("font-size", st.titleSize).attr("fill", "#222")
    .text(c.title);

  g.append("text").attr("x", c.w / 2).attr("y", c.h + st.xLabelDy)
    .attr("text-anchor", "middle").attr("font-size", st.labelSize).attr("letter-spacing", st.labelSpacing)
    .text("Gauge Rain Accumulation (mm)");
  g.append("text")
    .attr("transform", "translate(" + st.yLabelDx + "," + (c.h / 2) + ") rotate(-90)")
    .attr("text-anchor", "middle").attr("font-size", st.labelSize).attr("letter-spacing", st.labelSpacing)
    .text("Radar Rain Accumulation (mm)");

  c.stats.forEach(function(v, i) {
    g.append("text").attr("x", st.statsX).attr("y", st.statsY[i])
      .attr("font-size", st.statsSize).text(statLabels[i]);
    var base = i < 3 ? 2 : 4;
    g.append("text")
      .attr("x", st.valX[i] - (intDigits(v) - base) * st.digitW)
      .attr("y", st.statsY[i])
      .attr("font-size", st.statsSize)
      .attr("letter-spacing", i < 3 ? 2.5 : 1)
      .text(i < 3 ? v.toFixed(2) + " %" : String(v));
  });

  if (c.num) {
    g.append("text").attr("x", c.w + c.numDx).attr("y", c.h + c.numDy)
      .attr("text-anchor", "middle")
      .attr("font-family", "'Open Sans', sans-serif").attr("font-size", 126)
      .text(c.num);
  }
}

var plots = [
  {x: 151, y: 207, w: 767, h: 834, title: pointTitles[0], stats: pointStats[0], data: expand(zhCols, zhRows, zhPts), num: "1", numDx: -90, numDy: -20},
  {x: 1089, y: 207, w: 767, h: 834, title: pointTitles[1], stats: pointStats[1], data: expand(kdpCols, kdpRows, kdpPts), num: "2", numDx: -86, numDy: -20},
  {x: 156, y: 1180, w: 767, h: 834, title: pointTitles[2], stats: pointStats[2], data: expand(aCols, aRows, aPts), num: "3", numDx: -96, numDy: -26},
  {x: 1092, y: 1180, w: 767, h: 834, title: pointTitles[3], stats: pointStats[3], data: expand(synCols, synRows, synPts), num: "4", numDx: -87, numDy: -26},
  {x: 3767, y: 207, w: 769, h: 836, title: arealTitles[0], stats: arealStats[0], data: expand(null, null, zhArealPts), num: "1", numDx: -75, numDy: -33},
  {x: 4704, y: 207, w: 769, h: 836, title: arealTitles[1], stats: arealStats[1], data: expand(null, null, kdpArealPts), num: "2", numDx: -68, numDy: -33},
  {x: 3771, y: 1179, w: 769, h: 836, title: arealTitles[2], stats: arealStats[2], data: expand(null, null, aArealPts), num: "3", numDx: -82, numDy: -39},
  {x: 4707, y: 1179, w: 769, h: 836, title: arealTitles[3], stats: arealStats[3], data: expand(null, null, synArealPts), num: "4", numDx: -74, numDy: -39},
  {x: 2063, y: 222, w: 642, h: 782, title: nexradTitles[0], stats: nexradStats[0], data: expand(dprCols, dprRows, dprPts), style: nexStyle, color: nexBlue},
  {x: 2921, y: 222, w: 642, h: 782, title: nexradTitles[1], stats: nexradStats[1], data: expand(null, null, dprArealPts), style: nexStyle, color: nexBlue}
];

plots.forEach(function(p) {
  if (!p.style) p.style = sgpStyle;
  if (!p.color) p.color = sgpBlue;
  drawPlot(p);
});

// explanatory text, justified like the poster
var note = root.append("g")
  .attr("font-family", "Lato, 'Open Sans', sans-serif")
  .attr("font-size", 50)
  .attr("fill", "#111");

noteLines.forEach(function(l) {
  var t = note.append("text")
    .attr("transform", "translate(1929," + l.y + ")")
    .attr("xml:space", "preserve")
    .style("white-space", "pre");
  l.s.forEach(function(s) {
    t.append("tspan").attr("font-weight", s[1] ? 700 : 400).text(s[0]);
  });
  var nat = t.node().getComputedTextLength();
  var gaps = l.s.map(function(s) { return s[0]; }).join("").split(" ").length - 1;
  if (l.j && nat < l.w && gaps > 0) {
    t.attr("word-spacing", (l.w - nat) / gaps);
  } else if (nat > 0) {
    t.attr("transform", "translate(1929," + l.y + ") scale(" + (l.w / nat) + ",1)");
  }
});
</script>
</body>
</html>
